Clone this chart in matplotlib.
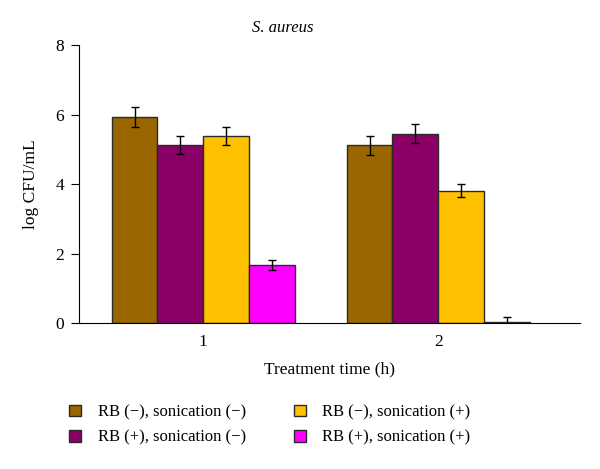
import numpy as np
import matplotlib.pyplot as plt

plt.rcParams['font.family'] = ['Liberation Serif', 'DejaVu Serif']

# data
times = ['1', '2']
labels = ['RB (\u2212), sonication (\u2212)', 'RB (+), sonication (\u2212)',
          'RB (\u2212), sonication (+)', 'RB (+), sonication (+)']
rb_minus_son_minus = [5.93, 5.12]
rb_plus_son_minus = [5.13, 5.45]
rb_minus_son_plus = [5.39, 3.81]
rb_plus_son_plus = [1.67, 0.02]
err_rb_minus_son_minus = [0.29, 0.27]
err_rb_plus_son_minus = [0.26, 0.28]
err_rb_minus_son_plus = [0.26, 0.18]
err_rb_plus_son_plus = [0.15, 0.15]

colors = ['#996600', '#8B0066', '#FFC000', '#FF00FF']
values = [rb_minus_son_minus, rb_plus_son_minus, rb_minus_son_plus, rb_plus_son_plus]
errors = [err_rb_minus_son_minus, err_rb_plus_son_minus, err_rb_minus_son_plus, err_rb_plus_son_plus]

fig = plt.figure(figsize=(6, 4.69), dpi=100)
ax = fig.add_axes([0.132, 0.311, 0.835, 0.593])

x = np.arange(1, len(times) + 1)
w = 0.195
for i in range(4):
    ax.bar(x + (i - 1.5) * w, values[i], w, color=colors[i], edgecolor='#2a2a2a',
           linewidth=1, label=labels[i],
           yerr=errors[i], error_kw=dict(ecolor='black', capsize=3, elinewidth=1, capthick=1))

ax.set_xlim(0.472, 2.604)
ax.set_ylim(0, 8)
ax.set_yticks([0, 2, 4, 6, 8])
ax.set_xticks(x)
ax.set_xticklabels(times)
ax.tick_params(axis='x', length=0, labelsize=12.5, pad=8)
ax.tick_params(axis='y', length=6, labelsize=12.5, direction='out', pad=5)
for s in ['top', 'right']:
    ax.spines[s].set_visible(False)

ax.set_xlabel('Treatment time (h)', fontsize=12.5, labelpad=8)
ax.set_ylabel('log CFU/mL', fontsize=12.5, labelpad=12)
fig.text(283 / 600, 1 - 28 / 469, 'S. aureus', style='italic', fontsize=12, ha='center', va='center')

leg = fig.legend(loc='center', bbox_to_anchor=(0.45, 1 - 425 / 469), ncol=2, frameon=False,
                 fontsize=12, handlelength=0.7, handleheight=0.7, columnspacing=2.9,
                 labelspacing=0.55, handletextpad=1.0)

fig.savefig('out.png', dpi=100)
